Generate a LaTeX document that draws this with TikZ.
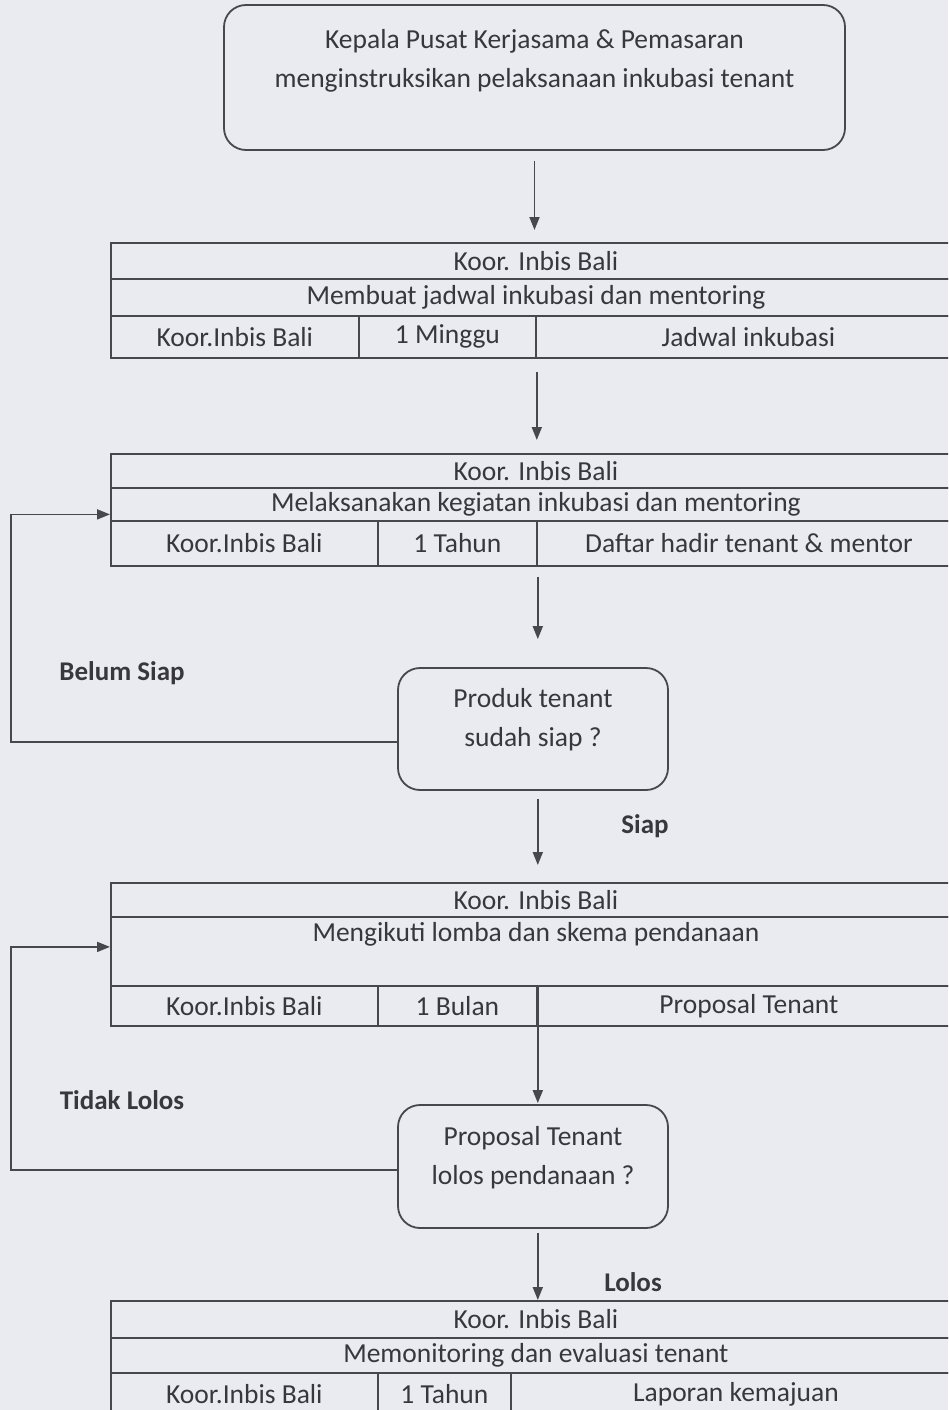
\documentclass[tikz,border=0pt]{standalone}
\usepackage{fontspec}
\setmainfont{Carlito}
\usepackage{tikz}
\usetikzlibrary{arrows.meta,calc}
\definecolor{paper}{RGB}{233,235,240}
\definecolor{ink}{RGB}{72,72,76}
\definecolor{txtc}{RGB}{55,55,60}

\begin{document}
\begin{tikzpicture}[x=1pt,y=-1pt,
    cell/.style={draw=ink,line width=1.8pt,anchor=north west,inner sep=0pt,font=\fontsize{27.5}{38}\selectfont,text=txtc},
    rbox/.style={draw=ink,line width=1.8pt,rounded corners=22pt,inner sep=0pt},
    txt/.style={font=\fontsize{27.5}{39}\selectfont,text=txtc,align=center},
    tag/.style={font=\fontsize{27}{30}\selectfont\bfseries,text=txtc},
    arr/.style={draw=ink,line width=1.8pt,-{Triangle[length=13pt,width=10pt]}}]
        \useasboundingbox (0,0) rectangle (948,1410);
        \fill[paper] (0,0) rectangle (948,1410);
        \clip (0,0) rectangle (948,1410);
        % start
        \node[rbox,minimum width=621pt,minimum height=145pt] (start) at (534.5,77.5) {};
        \node[txt] (starttxt) at (534.5,61) {Kepala Pusat Kerjasama \& Pemasaran\\menginstruksikan pelaksanaan inkubasi tenant};
        % table 1
        \node[cell,minimum width=850pt,minimum height=36pt] (t1a) at (110,242) {Koor. Inbis Bali};
        \node[cell,minimum width=850pt,minimum height=37pt] (t1b) at (110,278) {Membuat jadwal inkubasi dan mentoring};
        \node[cell,minimum width=248pt,minimum height=42pt] (t1c) at (110,315) {Koor.Inbis Bali};
        \node[cell,minimum width=177pt,minimum height=42pt] (t1d) at (358,315) {1 Minggu};
        \node[cell,minimum width=425pt,minimum height=42pt] (t1e) at (535,315) {Jadwal inkubasi};
        % table 2
        \node[cell,minimum width=850pt,minimum height=34pt] (t2a) at (110,453) {Koor. Inbis Bali};
        \node[cell,minimum width=850pt,minimum height=33pt] (t2b) at (110,487) {Melaksanakan kegiatan inkubasi dan mentoring};
        \node[cell,minimum width=267pt,minimum height=45pt] (t2c) at (110,520) {Koor.Inbis Bali};
        \node[cell,minimum width=159pt,minimum height=45pt] (t2d) at (377,520) {1 Tahun};
        \node[cell,minimum width=424pt,minimum height=45pt] (t2e) at (536,520) {Daftar hadir tenant \& mentor};
        % decision 1
        \node[rbox,minimum width=270pt,minimum height=122pt] (d1) at (533,729) {};
        \node[txt] (d1txt) at (533,720) {Produk tenant\\sudah siap ?};
        % table 3
        \node[cell,minimum width=850pt,minimum height=34pt] (t3a) at (110,882) {Koor. Inbis Bali};
        \node[cell,minimum width=850pt,minimum height=69pt,
              label={[txt,below=3pt]north:Mengikuti lomba dan skema pendanaan}] (t3b) at (110,916) {};
        \node[cell,minimum width=267pt,minimum height=40pt] (t3c) at (110,985) {Koor.Inbis Bali};
        \node[cell,minimum width=159pt,minimum height=40pt] (t3d) at (377,985) {1 Bulan};
        \node[cell,minimum width=424pt,minimum height=40pt] (t3e) at (536,985) {Proposal Tenant};
        % decision 2
        \node[rbox,minimum width=270pt,minimum height=123pt] (d2) at (533,1166.5) {};
        \node[txt] (d2txt) at (533,1158) {Proposal Tenant\\lolos pendanaan ?};
        % table 4
        \node[cell,minimum width=850pt,minimum height=37pt] (t4a) at (110,1300) {Koor. Inbis Bali};
        \node[cell,minimum width=850pt,minimum height=35pt] (t4b) at (110,1337) {Memonitoring dan evaluasi tenant};
        \node[cell,minimum width=267pt,minimum height=42pt] (t4c) at (110,1372) {Koor.Inbis Bali};
        \node[cell,minimum width=133pt,minimum height=42pt] (t4d) at (377,1372) {1 Tahun};
        \node[cell,minimum width=450pt,minimum height=42pt] (t4e) at (510,1372) {Laporan kemajuan};
        % labels
        \node[tag] (belum) at (122,673) {Belum Siap};
        \node[tag] (siap) at (645,826) {Siap};
        \node[tag] (tidak) at (122,1100) {Tidak Lolos};
        \node[tag] (lolos) at (633,1282) {Lolos};
        % arrows
        \draw[arr,shorten <=10pt,shorten >=12pt] (start.south) -- (start.south |- t1a.north);
        \draw[arr,shorten <=13pt,shorten >=13pt] (t1d.south east) -- (t2a.north -| t1d.south east);
        \draw[arr,shorten <=10pt,shorten >=28pt] (t2d.south east) -- (d1.north -| t2d.south east);
        \draw[arr,shorten <=8pt,shorten >=17pt] (d1.south -| t3d.north east) -- (t3a.north -| t3d.north east);
        \draw[arr,shorten >=1pt] (t3d.north east) -- (d2.north -| t3d.north east);
        \draw[arr,shorten <=4pt] (d2.south -| t3d.north east) -- (t4a.north -| t3d.north east);
        \draw[arr] ($(d1.west)+(0,13)$) -- ++(-386,0) |- ($(t2b.west)+(0,10)$);
        \draw[arr] ($(d2.west)+(0,3.5)$) -- ++(-386,0) |- ($(t3b.west)+(0,-4.5)$);
      \end{tikzpicture}
\end{document}
